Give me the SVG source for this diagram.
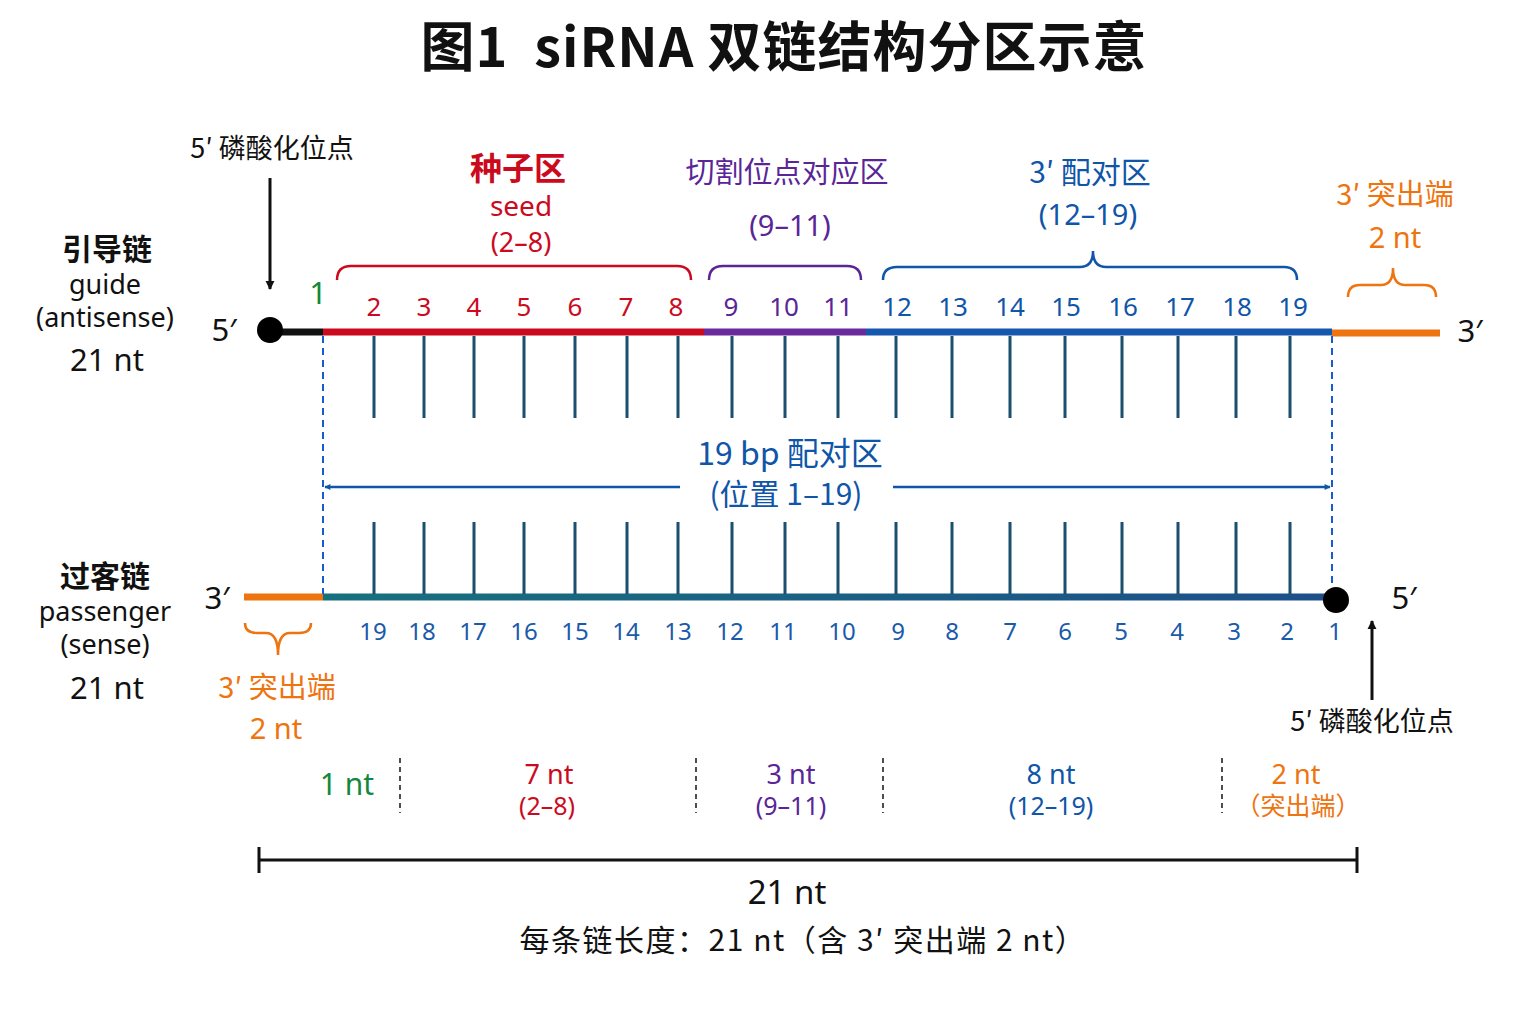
<svg xmlns="http://www.w3.org/2000/svg" width="1536" height="1024" viewBox="0 0 1536 1024">
<style>
text{font-family:"Noto Sans","Noto Sans CJK SC",sans-serif;text-anchor:middle}
.cjk{font-family:"Noto Sans CJK SC","Noto Sans",sans-serif}
.k{fill:#111}
.r{fill:#cc0a1e}
.p{fill:#5a2597}
.b{fill:#0f55a8}
.o{fill:#ee7410}
.g{fill:#13883c}
.bond{stroke:#1b4f6e;stroke-width:3}
.dash{stroke:#1a5ad0;stroke-width:2;stroke-dasharray:7 5;fill:none}
.sep{stroke:#222;stroke-width:1.6;stroke-dasharray:5 4}
.br{fill:none;stroke-width:2.5}
</style>
<defs>
<marker id="ah" viewBox="0 0 10 10" refX="9" refY="5" markerWidth="9" markerHeight="11" orient="auto-start-reverse" markerUnits="userSpaceOnUse"><path d="M0,0 L10,5 L0,10 Z" fill="#111"/></marker>
<marker id="bh" viewBox="0 0 10 10" refX="9" refY="5" markerWidth="10" markerHeight="6" orient="auto-start-reverse" markerUnits="userSpaceOnUse"><path d="M0,0 L10,5 L0,10 Z" fill="#0f55a8"/></marker>
<linearGradient id="tealg" x1="0" x2="1" y1="0" y2="0"><stop offset="0" stop-color="#17707e"/><stop offset="1" stop-color="#1d4f8a"/></linearGradient>
</defs>
<rect width="1536" height="1024" fill="#fff"/>
<g id="title"><text x="784" y="67" class="cjk k" font-size="54" font-weight="bold" letter-spacing="1"><tspan>图1</tspan><tspan dx="26">siRNA 双链结构分区示意</tspan></text></g>

<g id="connectors">
<line x1="270" y1="332" x2="323" y2="332" stroke="#111" stroke-width="7"/>
<line x1="323" y1="332" x2="704" y2="332" stroke="#cc0a1e" stroke-width="7"/>
<line x1="704" y1="332" x2="866" y2="332" stroke="#6a2a9c" stroke-width="7"/>
<line x1="866" y1="332" x2="1332" y2="332" stroke="#1558ad" stroke-width="7"/>
<line x1="1332" y1="333" x2="1440" y2="333" stroke="#ee7410" stroke-width="7"/>
<line x1="244" y1="597" x2="323" y2="597" stroke="#ee7410" stroke-width="7"/>
<rect x="323" y="593.5" width="1013" height="7" fill="url(#tealg)"/>
<g class="bond">
<path d="M374,336V418M424,336V418M474,336V418M524,336V418M575,336V418M627,336V418M678,336V418M732,336V418M785,336V418M838,336V418M896,336V418M952,336V418M1010,336V418M1065,336V418M1122,336V418M1178,336V418M1236,336V418M1290,336V418"/>
<path d="M374,522V594M424,522V594M474,522V594M524,522V594M575,522V594M627,522V594M678,522V594M732,522V594M785,522V594M838,522V594M896,522V594M952,522V594M1010,522V594M1065,522V594M1122,522V594M1178,522V594M1236,522V594M1290,522V594"/>
</g>
<line x1="323" y1="336" x2="323" y2="594" class="dash"/>
<line x1="1332" y1="336" x2="1332" y2="594" class="dash"/>
<line x1="680" y1="487" x2="325" y2="487" stroke="#0f55a8" stroke-width="2.5" marker-end="url(#bh)"/>
<line x1="893" y1="487" x2="1330" y2="487" stroke="#0f55a8" stroke-width="2.5" marker-end="url(#bh)"/>
<line x1="270" y1="178" x2="270" y2="289" stroke="#111" stroke-width="3" marker-end="url(#ah)"/>
<line x1="1372" y1="700" x2="1372" y2="621" stroke="#111" stroke-width="3" marker-end="url(#ah)"/>
<path class="br" stroke="#cc0a1e" d="M337,280 Q337,266 351,266 L677,266 Q691,266 691,280"/>
<path class="br" stroke="#5a2597" d="M709,280 Q709,266 723,266 L847,266 Q861,266 861,280"/>
<path class="br" stroke="#0f55a8" d="M883,280 Q883,267 897,267 L1080,267 Q1093,267 1093,251 Q1093,267 1106,267 L1284,267 Q1297,267 1297,280"/>
<path class="br" stroke="#ee7410" d="M1348,297 Q1348,285 1360,285 L1381,285 Q1393,285 1393,268 Q1393,285 1405,285 L1424,285 Q1436,285 1436,297"/>
<path class="br" stroke="#ee7410" d="M245,623 Q245,633 257,633 L266,633 Q278,633 278,655 Q278,633 290,633 L299,633 Q311,633 311,623"/>
<line x1="400" y1="758" x2="400" y2="813" class="sep"/>
<line x1="696" y1="758" x2="696" y2="813" class="sep"/>
<line x1="883" y1="758" x2="883" y2="813" class="sep"/>
<line x1="1222" y1="758" x2="1222" y2="813" class="sep"/>
<path d="M259,860H1357M259,847V873M1357,847V873" stroke="#111" stroke-width="3" fill="none"/>
</g>

<g id="node-guide-5p"><circle cx="270" cy="330" r="13" fill="#000"/><text x="224" y="341" font-size="31" class="k">5′</text></g>
<g id="node-guide-3p"><text x="1470" y="342" font-size="31" class="k">3′</text></g>
<g id="node-pass-3p"><text x="217" y="609" font-size="31" class="k">3′</text></g>
<g id="node-pass-5p"><circle cx="1336" cy="600" r="13" fill="#000"/><text x="1404" y="609" font-size="31" class="k">5′</text></g>

<g id="node-phos-top"><text x="272" y="158" font-size="27" class="cjk k">5′ 磷酸化位点</text></g>
<g id="node-phos-bottom"><text x="1372" y="731" font-size="27" class="cjk k">5′ 磷酸化位点</text></g>

<g id="node-guide-label">
<text x="107" y="260" font-size="30" class="cjk k" font-weight="bold">引导链</text>
<text x="105" y="294" font-size="27" class="k">guide</text>
<text x="105" y="327" font-size="27" class="k">(antisense)</text>
<text x="107" y="371" font-size="31" class="k">21 nt</text>
</g>
<g id="node-passenger-label">
<text x="105" y="587" font-size="30" class="cjk k" font-weight="bold">过客链</text>
<text x="105" y="621" font-size="27" class="k">passenger</text>
<text x="105" y="654" font-size="27" class="k">(sense)</text>
<text x="107" y="699" font-size="31" class="k">21 nt</text>
</g>

<g id="node-seed">
<text x="518" y="180" font-size="32" class="cjk r" font-weight="bold">种子区</text>
<text x="521" y="216" font-size="28" class="r">seed</text>
<text x="521" y="252" font-size="27" class="r">(2–8)</text>
</g>
<g id="node-cleavage">
<text x="787" y="183" font-size="29" class="cjk p">切割位点对应区</text>
<text x="790" y="236" font-size="29" class="p">(9–11)</text>
</g>
<g id="node-3pair">
<text x="1090" y="183" font-size="30" class="cjk b">3′ 配对区</text>
<text x="1088" y="225" font-size="29" class="b">(12–19)</text>
</g>
<g id="node-overhang-top">
<text x="1395" y="205" font-size="29" class="cjk o">3′ 突出端</text>
<text x="1395" y="248" font-size="29" class="o">2 nt</text>
</g>
<g id="node-overhang-bottom">
<text x="277" y="698" font-size="29" class="cjk o">3′ 突出端</text>
<text x="276" y="739" font-size="29" class="o">2 nt</text>
</g>

<g id="node-top-numbers" font-size="26">
<text x="318" y="304" class="g" font-size="31">1</text>
<text x="374" y="316" class="r">2</text><text x="424" y="316" class="r">3</text><text x="474" y="316" class="r">4</text><text x="524" y="316" class="r">5</text><text x="575" y="316" class="r">6</text><text x="626" y="316" class="r">7</text><text x="676" y="316" class="r">8</text>
<text x="731" y="316" class="p">9</text><text x="784" y="316" class="p">10</text><text x="838" y="316" class="p">11</text>
<text x="897" y="316" class="b">12</text><text x="953" y="316" class="b">13</text><text x="1010" y="316" class="b">14</text><text x="1066" y="316" class="b">15</text><text x="1123" y="316" class="b">16</text><text x="1180" y="316" class="b">17</text><text x="1237" y="316" class="b">18</text><text x="1293" y="316" class="b">19</text>
</g>
<g id="node-bottom-numbers" font-size="24" fill="#1a5aaa">
<text x="373" y="640">19</text><text x="422" y="640">18</text><text x="473" y="640">17</text><text x="524" y="640">16</text><text x="575" y="640">15</text><text x="626" y="640">14</text><text x="678" y="640">13</text><text x="730" y="640">12</text><text x="783" y="640">11</text><text x="842" y="640">10</text><text x="898" y="640">9</text><text x="952" y="640">8</text><text x="1010" y="640">7</text><text x="1065" y="640">6</text><text x="1121" y="640">5</text><text x="1177" y="640">4</text><text x="1234" y="640">3</text><text x="1287" y="640">2</text><text x="1335" y="640">1</text>
</g>

<g id="node-paired">
<text x="790" y="465" font-size="32" class="cjk b">19 bp 配对区</text>
<text x="786" y="505" font-size="30" class="cjk b">(位置 1–19)</text>
</g>

<g id="node-segments">
<text x="347" y="795" font-size="30" class="g">1 nt</text>
<text x="549" y="784" font-size="27" class="r">7 nt</text><text x="547" y="815" font-size="25" class="r">(2–8)</text>
<text x="791" y="784" font-size="27" class="p">3 nt</text><text x="791" y="815" font-size="25" class="p">(9–11)</text>
<text x="1051" y="784" font-size="27" class="b">8 nt</text><text x="1051" y="815" font-size="25" class="b">(12–19)</text>
<text x="1296" y="784" font-size="27" class="o">2 nt</text><text x="1298" y="815" font-size="25" class="cjk o">（突出端）</text>
</g>

<g id="node-total">
<text x="787" y="904" font-size="33" class="k">21 nt</text>
<text x="803" y="951" font-size="30" class="cjk k" letter-spacing="1.5">每条链长度：21 nt（含 3′ 突出端 2 nt）</text>
</g>
</svg>
